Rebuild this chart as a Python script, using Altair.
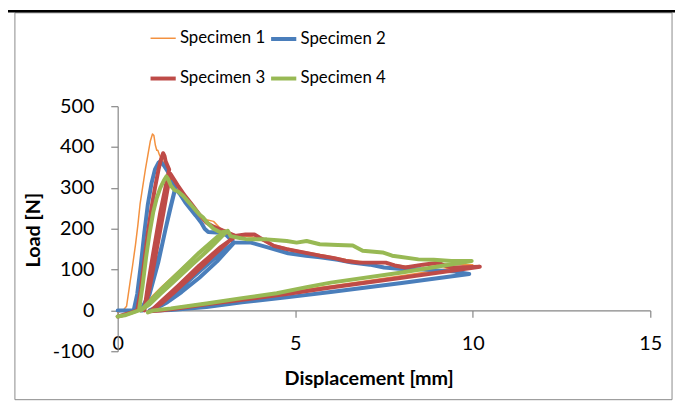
import altair as alt
import pandas as pd

series_names = ["Specimen 1", "Specimen 2", "Specimen 3", "Specimen 4"]
series_colors = ["#F3913F", "#4A7EBB", "#BE4B48", "#98B954"]
series_widths = [1.5, 4, 4, 4]

# Specimen 1 (orange, thin)
s1_x = [0, 0.15, 0.25, 0.3, 0.35, 0.42, 0.5, 0.57, 0.63, 0.7, 0.78, 0.85, 0.92, 0.98, 1.02, 1.06, 1.1, 1.13,
        1.18, 1.3, 1.5, 1.7, 1.9, 2.1, 2.3, 2.5, 2.7, 2.9, 3.0,
        2.4, 1.8, 1.2, 0.8, 0.55, 0.8, 1.3, 1.9, 2.5, 3.0,
        3.3, 3.8, 4.4, 5.0, 5.7, 6.43, 7.0, 7.5, 8.1, 8.6, 9.2, 10.0,
        8.0, 6.0, 4.0, 2.5, 1.2, 0.9]
s1_y = [-5, 0, 10, 40, 70, 110, 160, 210, 260, 300, 345, 380, 415, 432, 428, 405, 392, 392,
        380, 360, 330, 300, 272, 250, 232, 222, 218, 200, 196,
        150, 103, 55, 20, 0, 18, 60, 108, 155, 198,
        185, 180, 160, 148, 137, 125, 118, 116, 108, 110, 113, 112,
        85, 60, 37, 18, 2, 0]

# Specimen 2 (blue)
s2_x = [0, 0.45, 0.55, 0.65, 0.75, 0.85, 0.95, 1.05, 1.15, 1.2, 1.3, 1.45, 1.62,
        1.45, 1.25, 1.0, 0.8, 0.65, 0.7, 0.9, 1.15, 1.35, 1.5, 1.62,
        1.75, 1.9, 2.05, 2.2, 2.35, 2.45, 2.55, 2.9, 3.05, 3.28,
        2.8, 2.3, 1.8, 1.4, 1.1, 0.9, 1.2, 1.6, 2.1, 2.6, 3.0, 3.28,
        3.75, 4.2, 4.8, 5.3, 5.7, 6.2, 6.6, 7.1, 7.5, 8.1, 8.5, 9.0, 9.5, 9.9,
        8.0, 6.0, 4.76, 3.5, 2.5, 1.5, 1.0]
s2_y = [0, 0, 40, 110, 190, 260, 310, 345, 362, 365, 355, 335, 300,
        240, 160, 80, 25, 0, 0, 40, 120, 200, 255, 298,
        285, 265, 248, 232, 215, 200, 192, 190, 185, 166,
        120, 80, 45, 20, 6, 0, 12, 40, 80, 118, 148, 166,
        166, 155, 140, 134, 130, 124, 117, 112, 105, 101, 101, 98, 95, 89,
        67, 45, 32, 20, 8, 1, 0]

# Specimen 3 (red)
s3_x = [0, 0.2, 0.4, 0.55, 0.65, 0.75, 0.85, 0.95, 1.05, 1.15, 1.22, 1.28, 1.32, 1.35, 1.45,
        1.2, 1.0, 0.85, 0.75, 0.9, 1.1, 1.3, 1.48,
        1.7, 1.9, 2.1, 2.3, 2.5, 2.7, 2.9, 3.1, 3.3,
        2.7, 2.1, 1.6, 1.25, 0.95, 1.2, 1.7, 2.3, 2.9, 3.35,
        3.6, 3.85, 4.0, 4.4, 4.76, 5.23, 5.69, 6.1, 6.43, 6.8, 7.55, 7.8, 8.1, 8.6, 9.03, 9.2, 9.4, 9.8, 10.2,
        8.0, 6.0, 4.76, 3.5, 2.5, 1.6, 1.2, 0.9]
s3_y = [-15, -10, -5, 0, 50, 120, 190, 250, 300, 345, 370, 385, 378, 365, 345,
        240, 140, 60, 0, 55, 150, 245, 335,
        305, 280, 258, 235, 215, 205, 198, 190, 183,
        135, 85, 45, 18, 0, 20, 60, 110, 155, 183,
        186, 186, 178, 158, 150, 142, 134, 128, 121, 117, 117, 110, 105, 112, 117, 110, 105, 106, 107,
        80, 56, 40, 26, 15, 4, 0, -2]

# Specimen 4 (green)
s4_x = [0, 0.2, 0.4, 0.6, 0.7, 0.8, 0.9, 1.0, 1.1, 1.2, 1.3, 1.37, 1.42, 1.5, 1.6, 1.7, 1.85, 1.98,
        2.1, 2.2, 2.3, 2.4, 2.53, 2.7, 2.9, 3.08,
        2.6, 2.1, 1.6, 1.2, 0.9, 0.65, 0.9, 1.3, 1.8, 2.3, 2.8, 3.1,
        3.18, 3.4, 3.65, 4.2, 4.5, 4.76, 5.04, 5.32, 5.69, 6.2, 6.62, 6.9, 7.46, 7.73, 8.47, 8.9, 9.4, 9.97,
        8.0, 6.0, 5.32, 4.48, 3.5, 2.5, 1.5, 1.0, 0.85]
s4_y = [-15, -12, -6, 0, 60, 130, 190, 240, 275, 300, 318, 328, 322, 305, 295, 291, 280, 267,
        255, 245, 235, 228, 214, 200, 191, 194,
        152, 112, 72, 40, 15, 0, 22, 58, 100, 142, 180, 195,
        182, 178, 174, 174, 172, 170, 166, 170, 162, 160, 159, 146, 142, 134, 125, 124, 121, 121,
        93, 68, 57, 42, 30, 17, 5, 0, -5]

rows = []
for name, xs, ys in zip(series_names, [s1_x, s2_x, s3_x, s4_x], [s1_y, s2_y, s3_y, s4_y]):
    for i, (x, y) in enumerate(zip(xs, ys)):
        rows.append({"series": name, "x": x, "y": y, "order": i})
df = pd.DataFrame(rows)

FONT = "Lato"

lines = alt.Chart(df).mark_line(strokeJoin="round", strokeCap="round").encode(
    x=alt.X("x:Q", scale=alt.Scale(domain=[0, 15], nice=False, zero=False),
            axis=alt.Axis(values=[0, 5, 10, 15], offset=-41.33, tickSize=7, labelPadding=27,
                          labelBaseline="middle", labelFlush=False, title="Displacement [mm]",
                          titleX=254, titleY=69, titleAlign="center", titleBaseline="middle")),
    y=alt.Y("y:Q", scale=alt.Scale(domain=[-100, 500], nice=False, zero=False),
            axis=alt.Axis(values=[-100, 0, 100, 200, 300, 400, 500], tickSize=7, labelPadding=17,
                          labelBaseline="middle", labelExpr="'' + datum.value", labelFlush=False,
                          title="Load [N]", titleX=-85, titleY=125, titleAngle=-90,
                          titleAlign="center", titleBaseline="middle")),
    color=alt.Color("series:N", scale=alt.Scale(domain=series_names, range=series_colors),
                    legend=alt.Legend(title=None, direction="horizontal")),
    strokeWidth=alt.StrokeWidth("series:N",
                                scale=alt.Scale(type="ordinal", domain=series_names, range=series_widths),
                                legend=alt.Legend(title=None, direction="horizontal")),
    order=alt.Order("order:Q"),
    detail="series:N",
)

border = alt.Chart(alt.Data(values=[{"a": 1}])).mark_rect(
    fill="transparent", stroke="#898989", strokeWidth=1
).encode(
    x=alt.value(-104), x2=alt.value(561), y=alt.value(-94.5), y2=alt.value(297)
)

topline = alt.Chart(alt.Data(values=[{"a": 1}])).mark_rule(color="black", strokeWidth=2.5).encode(
    x=alt.value(-111), x2=alt.value(564), y=alt.value(-96)
)

chart = alt.layer(border, topline, lines).properties(
    width=539, height=248,
    autosize=alt.AutoSizeParams(type="none"),
    padding={"left": 111, "top": 97, "right": 25, "bottom": 51},
    background="white",
).configure_view(stroke=None).configure_axis(
    domainColor="#868686", tickColor="#868686", domainWidth=1.2, tickWidth=1.2,
    labelFont=FONT, labelFontSize=20, labelColor="black", grid=False,
    titleFont=FONT, titleFontSize=20, titleFontWeight="bold", titleColor="black",
).configure_legend(
    orient="none", legendX=31, legendY=-83, columns=2, columnPadding=-3, rowPadding=17,
    symbolType="stroke", symbolSize=650, labelFont=FONT, labelFontSize=17, labelColor="black",
    labelOffset=2, padding=0,
)

chart.save("out.html", embed_options={"renderer": "svg", "actions": False})
